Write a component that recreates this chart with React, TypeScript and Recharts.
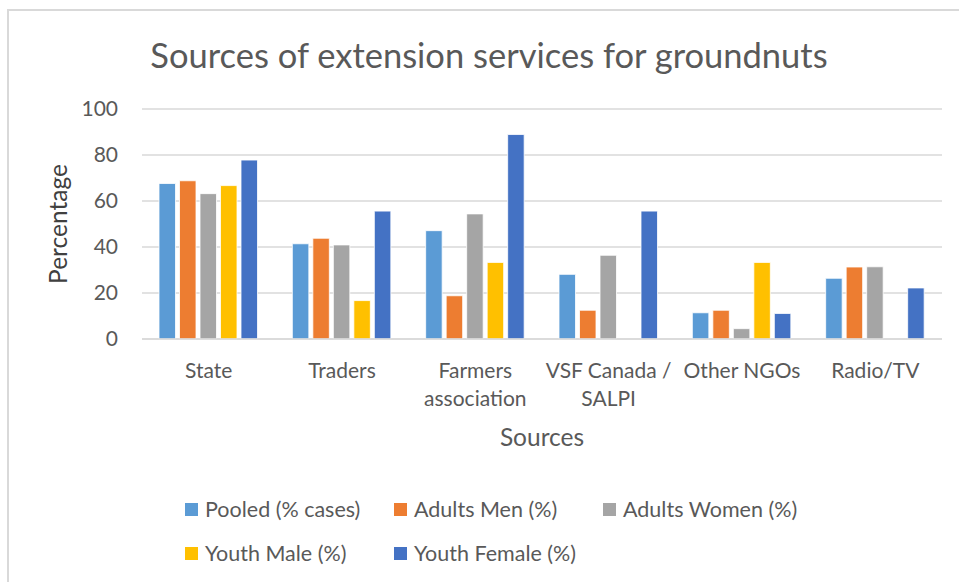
import React from "react";
import { BarChart, Bar, XAxis, YAxis, CartesianGrid, Label } from "recharts";

const sources = ["State", "Traders", "Farmers\nassociation", "VSF Canada /\nSALPI", "Other NGOs", "Radio/TV"];
const pooled = [67.6, 41.4, 47.1, 28.1, 11.4, 26.4];
const adultsMen = [68.8, 43.8, 18.8, 12.5, 12.5, 31.3];
const adultsWomen = [63.2, 40.9, 54.4, 36.4, 4.5, 31.4];
const youthMale = [66.7, 16.7, 33.3, 0, 33.3, 0];
const youthFemale = [77.8, 55.6, 88.9, 55.6, 11.1, 22.2];
const yTicks = [0, 20, 40, 60, 80, 100];

const SERIES = [
  { key: "pooled", name: "Pooled (% cases)", color: "#5B9BD5" },
  { key: "adultsMen", name: "Adults Men (%)", color: "#ED7D31" },
  { key: "adultsWomen", name: "Adults Women (%)", color: "#A5A5A5" },
  { key: "youthMale", name: "Youth Male (%)", color: "#FFC000" },
  { key: "youthFemale", name: "Youth Female (%)", color: "#4472C4" },
];

const data = sources.map((name, i) => ({
  name,
  pooled: pooled[i],
  adultsMen: adultsMen[i],
  adultsWomen: adultsWomen[i],
  youthMale: youthMale[i],
  youthFemale: youthFemale[i],
}));

const FONT = "Lato, 'Open Sans', sans-serif";
const GREY = "#595959";

const SourceTick = ({ x, y, payload }: any) => {
  const lines = String(payload.value).split("\n");
  return (
    <text x={x} y={y} textAnchor="middle" fill={GREY} fontSize={21} fontFamily={FONT}>
      {lines.map((line, i) => (
        <tspan key={i} x={x} dy={i === 0 ? 31 : 28}>
          {line}
        </tspan>
      ))}
    </text>
  );
};

export default function App() {
  return (
    <div style={{ position: "absolute", left: 0, top: 0, width: 959, height: 582, background: "#fff", overflow: "hidden", fontFamily: FONT }}>
      {/* chart frame, runs off the right and bottom edge */}
      <div style={{ position: "absolute", left: 7, top: 9, width: 980, height: 600, border: "2px solid #d9d9d9" }} />
      <div style={{ position: "absolute", left: 0, top: 34, width: 978, textAlign: "center", fontSize: 34.5, color: GREY }}>
        Sources of extension services for groundnuts
      </div>

      <div style={{ position: "absolute", left: 0, top: 0 }}>
        <BarChart
          width={959}
          height={582}
          data={data}
          margin={{ top: 109, right: 17, left: 0, bottom: 143 }}
          barGap={4}
          barSize={16.5}
        >
          <CartesianGrid vertical={false} stroke="#d9d9d9" strokeWidth={1.5} />
          <XAxis
            dataKey="name"
            height={100}
            axisLine={{ stroke: "#d9d9d9", strokeWidth: 1.5 }}
            tickLine={false}
            interval={0}
            tick={<SourceTick />}
          >
            <Label value="Sources" position="insideTop" offset={90} fill={GREY} fontSize={24.5} fontFamily={FONT} />
          </XAxis>
          <YAxis
            width={142}
            domain={[0, 100]}
            ticks={yTicks}
            axisLine={false}
            tickLine={false}
            tickMargin={18}
            tick={{ fill: GREY, fontSize: 21, fontFamily: FONT }}
          >
            <Label value="Percentage" angle={-90} position="insideLeft" offset={58} fill="#404040" fontSize={24.5} fontFamily={FONT} style={{ textAnchor: "middle" }} />
          </YAxis>
          {SERIES.map((s) => (
            <Bar key={s.key} dataKey={s.key} name={s.name} fill={s.color} stroke="#ffffff" strokeWidth={0.8} isAnimationActive={false} />
          ))}
        </BarChart>
      </div>

      {/* legend: three columns, two rows */}
      {SERIES.map((s, i) => (
        <div
          key={s.key}
          style={{
            position: "absolute",
            left: 185 + (i % 3) * 209,
            top: 496 + Math.floor(i / 3) * 44,
            display: "flex",
            alignItems: "center",
            fontSize: 21.5,
            color: GREY,
            whiteSpace: "nowrap",
          }}
        >
          <span style={{ display: "inline-block", width: 13, height: 13, background: s.color, marginRight: 7 }} />
          {s.name}
        </div>
      ))}
    </div>
  );
}
